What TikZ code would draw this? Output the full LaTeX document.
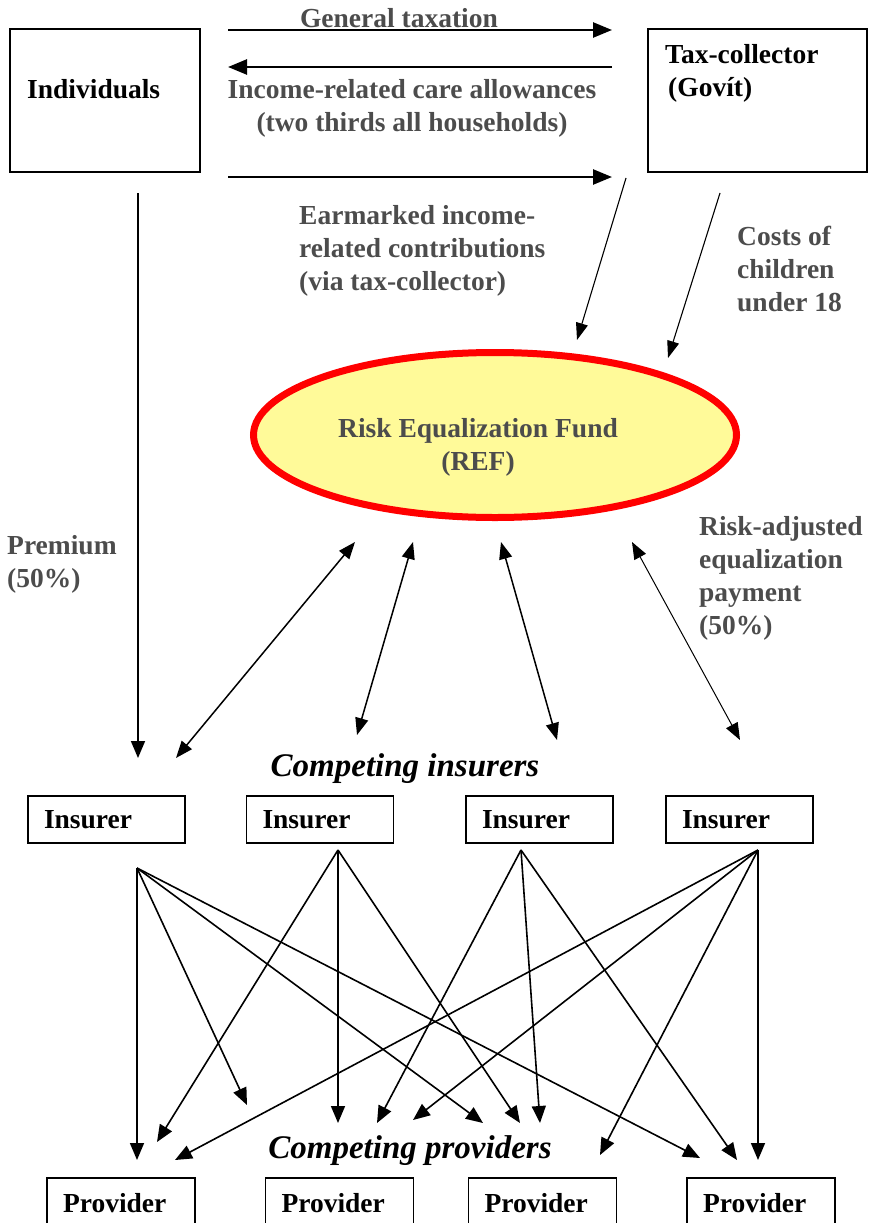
\documentclass[tikz,border=0pt]{standalone}
\usepackage{fontspec}
\setmainfont{Liberation Serif}
\usepackage{xcolor}
\usepackage{tikz}
\usetikzlibrary{arrows.meta, shapes.geometric}

\begin{document}
\begin{tikzpicture}[
  x=1pt, y=-1pt,
  every node/.style={font=\bfseries\fontsize{27.5}{33}\selectfont, inner sep=0pt},
  box/.style={rectangle, draw=black, line width=1.5pt},
  insbox/.style={box, minimum height=47pt, text width=115pt, inner xsep=16pt, align=left},
  provbox/.style={box, minimum height=50pt, text width=116pt, inner xsep=16pt, align=left},
  fund/.style={ellipse, draw=red, line width=7pt, fill=yellow!40,
    minimum width=483pt, minimum height=165pt},
  lbl/.style={text=black!70, align=left},
  group/.style={font=\bfseries\itshape\fontsize{33}{38}\selectfont},
  heavy/.style={-{Triangle[length=19pt,width=15pt]}, line width=2.5pt},
  arr/.style={-{Triangle[length=17pt,width=14pt]}, line width=1.6pt},
  slim/.style={-{Triangle[length=17pt,width=12pt]}, line width=1.1pt},
  dbl/.style={{Triangle[length=17pt,width=13pt]}-{Triangle[length=17pt,width=13pt]}, line width=1.5pt},
]
  \useasboundingbox (0,0) rectangle (869,1223);
  \clip (0,0) rectangle (869,1223);

  % top boxes
  \node[box, minimum width=190pt, minimum height=143pt] (indiv) at (105,100.5) {};
  \node[anchor=west] (indivtxt) at (27,89) {Individuals};
  \node[box, minimum width=219pt, minimum height=143pt] (taxc) at (757.5,100.5) {};
  \node[anchor=west, align=left] (taxctxt) at (665,73) {Tax-collector\\\hspace*{3pt}(Govít)};

  % fund
  \node[fund] (ref) at (495,435) {};
  \node[lbl, align=center] (reftxt) at (478,447) {Risk Equalization Fund\\(REF)};

  % insurers
  \node[group] (insgrp) at (405,769) {Competing insurers};
  \node[insbox, text width=125pt] (ins1) at (106.5,819.5) {Insurer};
  \node[insbox] (ins2) at (320,819.5) {Insurer};
  \node[insbox] (ins3) at (539.5,819.5) {Insurer};
  \node[insbox] (ins4) at (739.5,819.5) {Insurer};

  % providers
  \node[group] (provgrp) at (410,1151) {Competing providers};
  \node[provbox] (prov1) at (121,1203) {Provider};
  \node[provbox] (prov2) at (339.5,1203) {Provider};
  \node[provbox] (prov3) at (542.5,1203) {Provider};
  \node[provbox] (prov4) at (761,1203) {Provider};

  % flow labels
  \node[lbl] (gtax) at (399,18) {General taxation};
  \node[lbl, align=center] (allow) at (412,108) {Income-related care allowances\\(two thirds all households)};
  \node[lbl, anchor=west] (earm) at (299,251) {Earmarked income-\\related contributions\\(via tax-collector)};
  \node[lbl, anchor=west] (kids) at (737,269) {Costs of\\children\\under 18};
  \node[lbl, anchor=west] (prem) at (7,564) {Premium\\(50\%)};
  \node[lbl, anchor=west] (riskadj) at (699,578) {Risk-adjusted\\equalization\\payment\\(50\%)};

  % free ends of the connectors
  \coordinate (gtaxA) at (228,30);   \coordinate (gtaxB) at (612,30);
  \coordinate (allowA) at (612,67);  \coordinate (allowB) at (228,67);
  \coordinate (earmA) at (228,177);  \coordinate (earmB) at (612,177);
  \coordinate (earmC) at (626,178);  \coordinate (earmD) at (577,340);
  \coordinate (kidsA) at (720,193);  \coordinate (kidsB) at (668,358);
  \coordinate (premA) at (138,193);  \coordinate (premB) at (138,758);
  \coordinate (refA) at (355,542);   \coordinate (insA) at (176,758);
  \coordinate (refB) at (413,542);   \coordinate (insB) at (357,735);
  \coordinate (refC) at (501,542);   \coordinate (insC) at (557,740);
  \coordinate (refD) at (632,542);   \coordinate (insD) at (740,740);

  \coordinate (ins1out) at (137,868);
  \coordinate (ins2out) at (338,850);
  \coordinate (ins3out) at (521,850);
  \coordinate (ins4out) at (758,850);
  \coordinate (tA) at (137,1160);
  \coordinate (tB) at (157,1142);
  \coordinate (tC) at (175,1160);
  \coordinate (tD) at (247,1105);
  \coordinate (tE) at (338,1123);
  \coordinate (tF) at (377,1123);
  \coordinate (tG) at (413,1120);
  \coordinate (tH) at (483,1123);
  \coordinate (tI) at (520,1123);
  \coordinate (tJ) at (540,1123);
  \coordinate (tK) at (600,1155);
  \coordinate (tL) at (700,1158);
  \coordinate (tM) at (737,1160);
  \coordinate (tN) at (758,1160);

  % money to the tax-collector and the fund
  \draw[heavy] (gtaxA) -- (gtaxB);
  \draw[heavy] (allowA) -- (allowB);
  \draw[heavy] (earmA) -- (earmB);
  \draw[slim] (earmC) -- (earmD);
  \draw[slim] (kidsA) -- (kidsB);
  \draw[arr] (premA) -- (premB);

  % fund <-> insurers
  \draw[dbl] (refA) -- (insA);
  \draw[dbl] (refB) -- (insB);
  \draw[dbl] (refC) -- (insC);
  \draw[dbl, line width=1pt] (refD) -- (insD);

  % insurers -> providers
  \draw[arr] (ins1out) -- (tA);
  \draw[arr] (ins1out) -- (tD);
  \draw[arr] (ins1out) -- (tH);
  \draw[arr] (ins1out) -- (tL);
  \draw[arr] (ins2out) -- (tB);
  \draw[arr] (ins2out) -- (tE);
  \draw[arr] (ins2out) -- (tI);
  \draw[arr] (ins3out) -- (tF);
  \draw[arr] (ins3out) -- (tJ);
  \draw[arr] (ins3out) -- (tM);
  \draw[arr] (ins4out) -- (tC);
  \draw[arr] (ins4out) -- (tG);
  \draw[arr] (ins4out) -- (tK);
  \draw[arr] (ins4out) -- (tN);
\end{tikzpicture}
\end{document}
